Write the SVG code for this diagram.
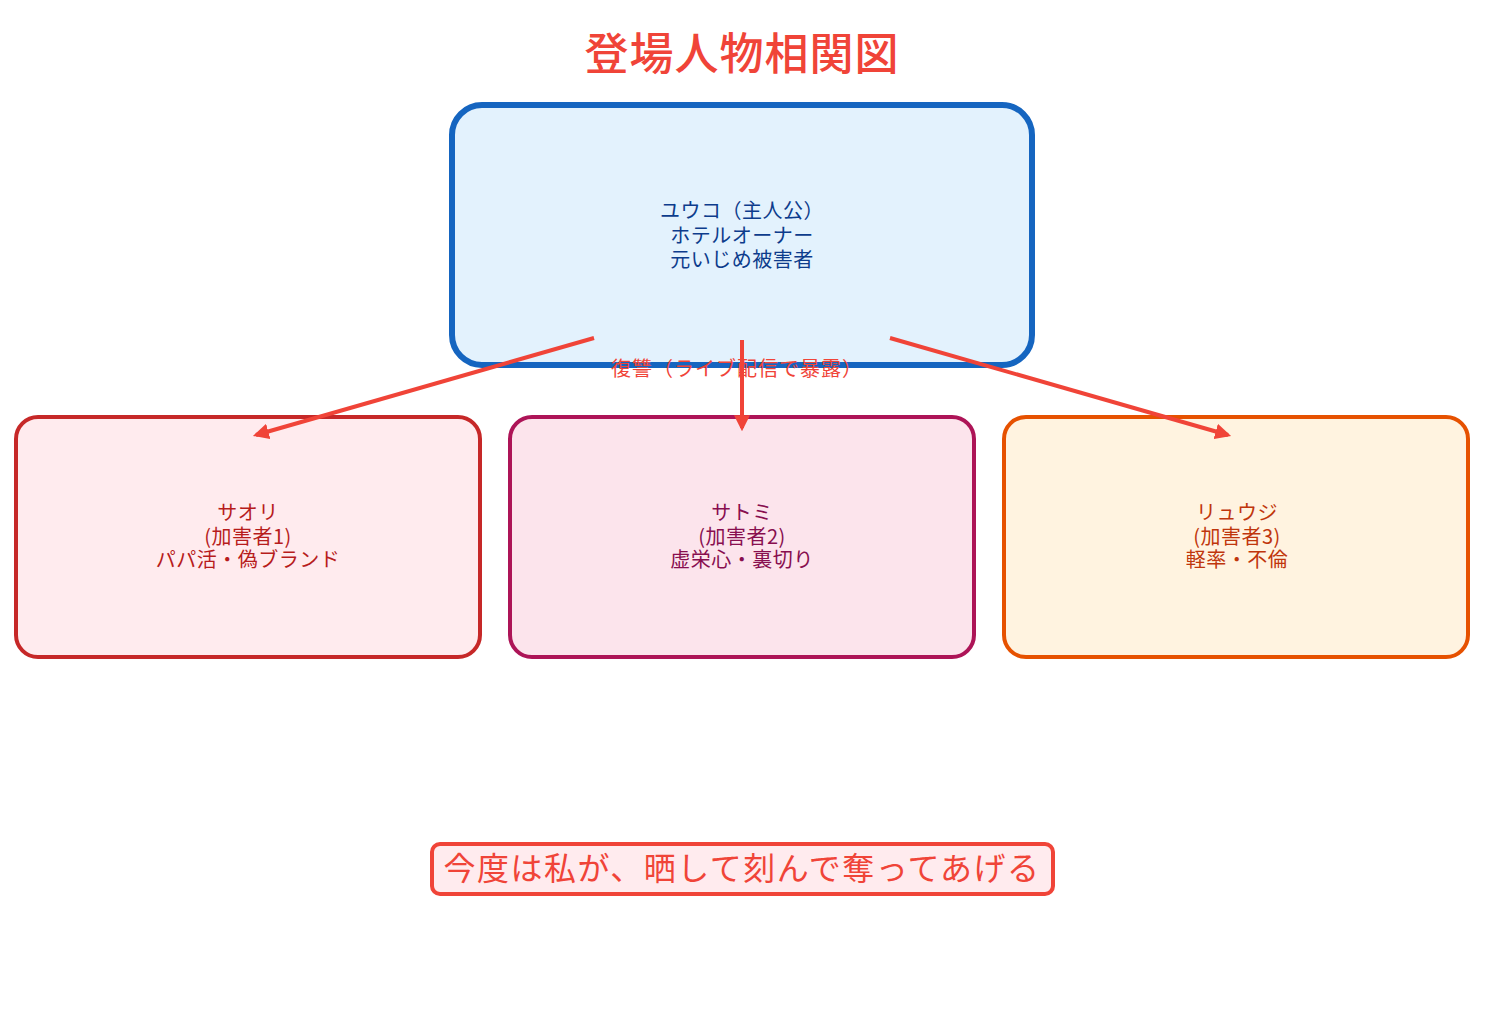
<svg xmlns="http://www.w3.org/2000/svg" width="1485" height="1035" viewBox="0 0 1485 1035">
<style>
text{font-family:"Noto Sans CJK JP","Noto Sans",sans-serif;text-anchor:middle}
.n{font-size:20px;letter-spacing:0.5px}
.c{stroke:#f04438;stroke-width:4;fill:none;marker-end:url(#a)}
</style>
<defs><marker id="a" viewBox="0 0 10 10" refX="8" refY="5" markerWidth="4" markerHeight="4" orient="auto"><path d="M0,0L10,5L0,10z" fill="#f04438"/></marker></defs>
<rect width="1485" height="1035" fill="#fff"/>
<text x="742" y="70" font-size="44" font-weight="500" letter-spacing="1" fill="#f04438">登場人物相関図</text>
<g id="yuko"><rect x="452" y="105" width="580" height="260" rx="30" fill="#e3f2fd" stroke="#1565c0" stroke-width="6"/>
<text class="n" fill="#0d3c8c"><tspan x="742" y="218">ユウコ（主人公）</tspan><tspan x="742" y="243">ホテルオーナー</tspan><tspan x="742" y="267">元いじめ被害者</tspan></text></g>
<g id="saori"><rect x="16" y="417" width="464" height="240" rx="22" fill="#ffebee" stroke="#c62828" stroke-width="4"/>
<text class="n" fill="#b71c1c"><tspan x="248" y="520">サオリ</tspan><tspan x="248" y="544">(加害者1)</tspan><tspan x="248" y="567">パパ活・偽ブランド</tspan></text></g>
<g id="satomi"><rect x="510" y="417" width="464" height="240" rx="22" fill="#fce4ec" stroke="#ad1457" stroke-width="4"/>
<text class="n" fill="#880e4f"><tspan x="742" y="520">サトミ</tspan><tspan x="742" y="544">(加害者2)</tspan><tspan x="742" y="567">虚栄心・裏切り</tspan></text></g>
<g id="ryuji"><rect x="1004" y="417" width="464" height="240" rx="22" fill="#fff3e0" stroke="#e65100" stroke-width="4"/>
<text class="n" fill="#bf360c"><tspan x="1237" y="520">リュウジ</tspan><tspan x="1237" y="544">(加害者3)</tspan><tspan x="1237" y="567">軽率・不倫</tspan></text></g>
<g id="connectors">
<path class="c" d="M594,338L256,435"/>
<path class="c" d="M742,340L742,428"/>
<path class="c" d="M890,338L1228,435"/>
<text x="737" y="376" font-size="20" letter-spacing="1" fill="#f04438">復讐（ライブ配信で暴露）</text>
</g>
<g id="quote"><rect x="432" y="844" width="621" height="50" rx="8" fill="#ffebee" stroke="#f04438" stroke-width="4"/>
<text x="742" y="880" font-size="32" letter-spacing="1.5" fill="#f04438">今度は私が、晒して刻んで奪ってあげる</text></g>
</svg>
